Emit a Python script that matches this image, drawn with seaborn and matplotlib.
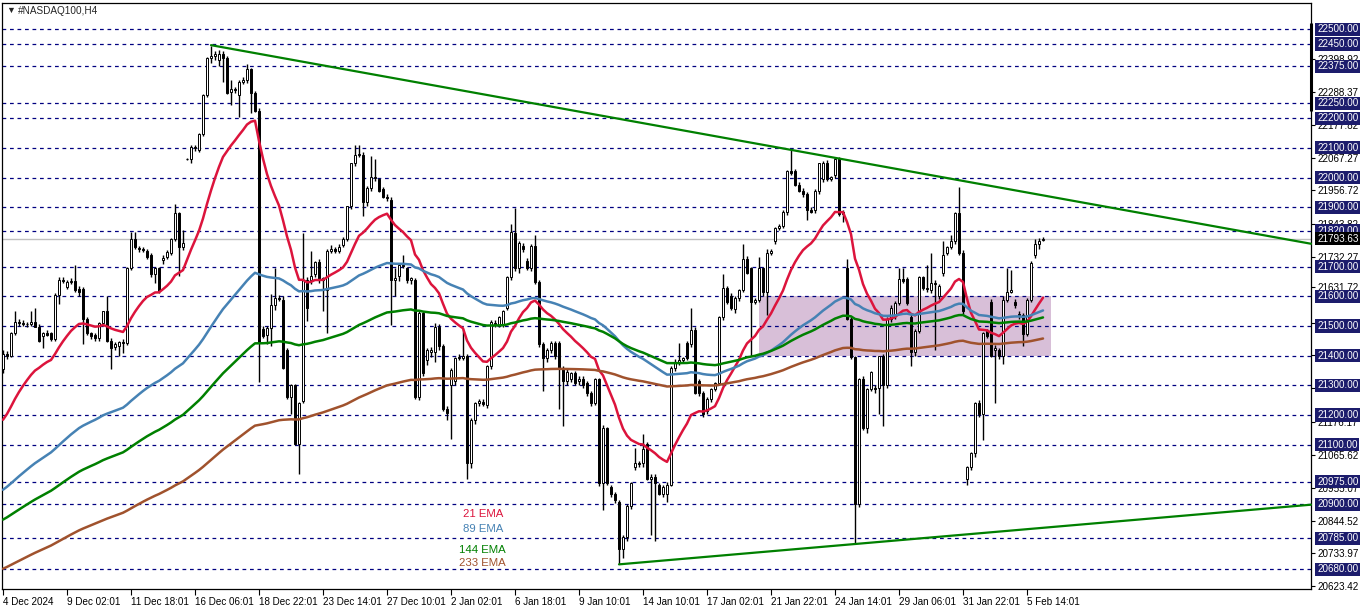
import matplotlib
matplotlib.use("Agg")
import matplotlib.pyplot as plt
import seaborn as sns
import numpy as np
import pandas as pd

# H4 candles
opens = [
    21355, 21405, 21400, 21475, 21515, 21510, 21505, 21505, 21512, 21497,
    21465, 21475, 21475, 21455, 21605, 21655, 21630, 21648, 21652, 21625,
    21625, 21525, 21475, 21468, 21458, 21510, 21549, 21451, 21430, 21431,
    21445, 21444, 21696, 21792, 21762, 21759, 21753, 21740, 21674, 21694,
    21723, 21733, 21746, 21792, 21880, 21766, 22063, 22061, 22103, 22093,
    22146, 22277, 22402, 22408, 22395, 22415, 22404, 22287, 22299, 22277,
    22323, 22330, 22365, 22284, 22225, 21490, 21468, 21493, 21569, 21595,
    21589, 21418, 21261, 21300, 21104, 21248, 21654, 21654, 21674, 21717,
    21654, 21622, 21753, 21759, 21753, 21772, 21792, 21903, 22048, 22076,
    22076, 21919, 21965, 22002, 21995, 21962, 21936, 21926, 21654, 21667,
    21707, 21694, 21654, 21654, 21261, 21543, 21385, 21412, 21412, 21497,
    21431, 21222, 21300, 21313, 21392, 21392, 21399, 21038, 21182, 21241,
    21245, 21235, 21366, 21510, 21503, 21503, 21562, 21664, 21814, 21696,
    21770, 21720, 21694, 21770, 21648, 21438, 21392, 21418, 21444, 21444,
    21359, 21313, 21320, 21340, 21315, 21320, 21307, 21274, 21241, 21320,
    20972, 21156, 20959, 20933, 20907, 20750, 20789, 20894, 21025, 21038,
    21038, 21104, 20986, 20992, 20966, 20933, 20935, 20966, 21359, 21379,
    21385, 21444, 21438, 21486, 21313, 21274, 21215, 21254, 21287, 21307,
    21530, 21628, 21602, 21556, 21595, 21622, 21727, 21694, 21582, 21589,
    21694, 21615, 21746, 21785, 21831, 21838, 21884, 22021, 22021, 21976,
    21956, 21943, 21890, 21890, 21956, 21995, 22050, 21995, 22008, 22061,
    21877, 21694, 21523, 21395, 20900, 21320, 21156, 21287, 21290, 21290,
    21399, 21300, 21523, 21536, 21576, 21657, 21657, 21530, 21412, 21484,
    21664, 21628, 21622, 21644, 21602, 21680, 21746, 21766, 21785, 21880,
    21746, 20986, 21025, 21071, 21241, 21202, 21484, 21582, 21420, 21418,
    21399, 21589, 21615, 21582, 21540, 21536, 21473, 21589, 21740, 21775,
    21790,
]
highs = [
    21420, 21415, 21480, 21550, 21525, 21520, 21515, 21550, 21560, 21505,
    21480, 21485, 21480, 21610, 21665, 21665, 21655, 21660, 21705, 21635,
    21630, 21530, 21480, 21475, 21515, 21552, 21600, 21460, 21445, 21450,
    21455, 21700, 21815, 21818, 21770, 21765, 21760, 21745, 21700, 21700,
    21740, 21755, 21795, 21910, 21885, 21825, 22066, 22111, 22110, 22150,
    22280, 22405, 22444, 22425, 22430, 22425, 22410, 22330, 22305, 22330,
    22340, 22382, 22370, 22290, 22235, 21500, 21500, 21608, 21696, 21605,
    21600, 21425, 21305, 21305, 21245, 21812, 21665, 21753, 21720, 21725,
    21665, 21760, 21772, 21765, 21775, 21800, 21905, 22050, 22111, 22111,
    22085, 21970, 22074, 22061, 22000, 21968, 21945, 21935, 21694, 21710,
    21740, 21700, 21665, 21660, 21550, 21550, 21425, 21430, 21510, 21505,
    21440, 21230, 21360, 21395, 21405, 21490, 21405, 21190, 21245, 21255,
    21255, 21370, 21520, 21520, 21535, 21555, 21670, 21844, 21897, 21785,
    21780, 21730, 21775, 21805, 21655, 21445, 21425, 21450, 21450, 21450,
    21365, 21355, 21345, 21350, 21330, 21330, 21315, 21280, 21325, 21325,
    21165, 21160, 20965, 20940, 20915, 20795, 20900, 20975, 21090, 21045,
    21135, 21110, 21000, 21000, 20970, 20965, 20975, 21365, 21390, 21444,
    21395, 21450, 21562, 21495, 21320, 21280, 21260, 21290, 21310, 21535,
    21674, 21635, 21610, 21600, 21625, 21775, 21735, 21700, 21595, 21733,
    21700, 21760, 21760, 21835, 21845, 21890, 22025, 22093, 22030, 21985,
    21965, 21950, 21900, 21960, 22050, 22055, 22060, 22005, 22068, 22070,
    21890, 21727, 21530, 21400, 21325, 21330, 21290, 21350, 21300, 21400,
    21405, 21530, 21570, 21585, 21694, 21694, 21665, 21540, 21490, 21670,
    21670, 21705, 21746, 21655, 21640, 21785, 21770, 21805, 21885, 21969,
    21755, 21030, 21075, 21245, 21250, 21480, 21490, 21590, 21435, 21425,
    21600, 21694, 21688, 21590, 21550, 21545, 21595, 21720, 21792, 21795,
    21800,
]
lows = [
    21340, 21390, 21395, 21470, 21500, 21500, 21495, 21500, 21495, 21445,
    21425, 21465, 21450, 21450, 21575, 21645, 21625, 21640, 21615, 21600,
    21440, 21470, 21455, 21450, 21450, 21505, 21445, 21355, 21420, 21400,
    21410, 21435, 21690, 21760, 21750, 21750, 21725, 21665, 21645, 21610,
    21710, 21725, 21740, 21785, 21667, 21755, 22060, 22048, 22090, 22085,
    22140, 22270, 22385, 22395, 22375, 22323, 22280, 22244, 22285, 22205,
    22315, 22320, 22218, 22220, 21312, 21460, 21440, 21431, 21555, 21585,
    21355, 21255, 21202, 21100, 21000, 21240, 21517, 21640, 21665, 21645,
    21549, 21477, 21745, 21745, 21745, 21765, 21785, 21895, 22040, 22070,
    21871, 21905, 21955, 21990, 21950, 21930, 21920, 21503, 21602, 21650,
    21695, 21645, 21640, 21255, 21250, 21330, 21370, 21395, 21380, 21420,
    21215, 21182, 21120, 21300, 21385, 21385, 20986, 21020, 21170, 21230,
    21230, 21225, 21355, 21495, 21495, 21495, 21555, 21655, 21685, 21680,
    21750, 21690, 21685, 21640, 21430, 21281, 21380, 21410, 21390, 21222,
    21163, 21300, 21310, 21300, 21300, 21290, 21265, 21230, 21235, 20960,
    20880, 20965, 20925, 20905, 20697, 20720, 20775, 20885, 21015, 21025,
    21025, 20980, 20795, 20776, 20930, 20925, 20907, 20960, 21350, 21370,
    21375, 21385, 21430, 21270, 21265, 21195, 21205, 21245, 21280, 21300,
    21520, 21575, 21555, 21545, 21585, 21615, 21675, 21399, 21575, 21580,
    21600, 21536, 21740, 21775, 21825, 21830, 21875, 22010, 21970, 21950,
    21935, 21858, 21880, 21880, 21945, 21985, 21990, 21990, 22000, 21870,
    21850, 21520, 21390, 20769, 20890, 21150, 21140, 21280, 21275, 21202,
    21163, 21290, 21515, 21525, 21570, 21645, 21570, 21366, 21400, 21475,
    21620, 21615, 21610, 21418, 21590, 21670, 21740, 21760, 21775, 21740,
    21540, 20966, 21015, 21060, 21195, 21115, 21460, 21395, 21241, 21390,
    21372, 21580, 21610, 21560, 21525, 21431, 21465, 21580, 21730, 21760,
    21785,
]
closes = [
    21405, 21400, 21475, 21515, 21510, 21505, 21508, 21512, 21497, 21450,
    21475, 21470, 21455, 21605, 21655, 21650, 21648, 21652, 21622, 21615,
    21525, 21475, 21465, 21458, 21510, 21549, 21451, 21425, 21438, 21447,
    21444, 21696, 21792, 21766, 21759, 21756, 21733, 21674, 21694, 21618,
    21730, 21749, 21792, 21880, 21766, 21779, 22063, 22103, 22100, 22146,
    22277, 22402, 22408, 22415, 22415, 22404, 22284, 22299, 22294, 22323,
    22330, 22365, 22284, 22225, 21444, 21465, 21493, 21569, 21595, 21590,
    21359, 21261, 21300, 21104, 21241, 21654, 21562, 21667, 21717, 21654,
    21660, 21753, 21759, 21753, 21766, 21792, 21903, 22048, 22076, 22080,
    21919, 21965, 22002, 21998, 21956, 21936, 21930, 21654, 21660, 21707,
    21703, 21654, 21661, 21261, 21543, 21340, 21418, 21418, 21497, 21431,
    21222, 21208, 21353, 21392, 21395, 21399, 21038, 21182, 21241, 21248,
    21237, 21366, 21513, 21503, 21530, 21549, 21664, 21818, 21694, 21779,
    21759, 21694, 21770, 21648, 21438, 21392, 21418, 21444, 21399, 21359,
    21313, 21346, 21340, 21307, 21320, 21300, 21274, 21241, 21320, 20972,
    21156, 20972, 20933, 20913, 20750, 20789, 20894, 20972, 21038, 21035,
    21084, 20986, 20992, 20972, 20933, 20959, 20966, 21359, 21379, 21385,
    21392, 21392, 21486, 21274, 21274, 21202, 21254, 21287, 21307, 21530,
    21628, 21582, 21562, 21595, 21622, 21727, 21680, 21582, 21589, 21694,
    21615, 21746, 21753, 21831, 21838, 21884, 22021, 22015, 21976, 21956,
    21943, 21890, 21885, 21956, 22048, 22050, 21995, 22002, 22061, 21877,
    21884, 21523, 21395, 20900, 21320, 21156, 21287, 21346, 21288, 21399,
    21300, 21523, 21562, 21576, 21657, 21652, 21576, 21412, 21484, 21664,
    21628, 21625, 21644, 21640, 21635, 21740, 21766, 21785, 21880, 21746,
    21549, 21025, 21071, 21241, 21202, 21477, 21465, 21399, 21425, 21399,
    21589, 21615, 21622, 21569, 21536, 21473, 21589, 21713, 21775, 21785,
    21794,
]

date_labels = ["4 Dec 2024", "9 Dec 02:01", "11 Dec 18:01", "16 Dec 06:01",
               "18 Dec 22:01", "23 Dec 14:01", "27 Dec 10:01", "2 Jan 02:01",
               "6 Jan 18:01", "9 Jan 10:01", "14 Jan 10:01", "17 Jan 02:01",
               "21 Jan 22:01", "24 Jan 14:01", "29 Jan 06:01", "31 Jan 22:01",
               "5 Feb 14:01"]
levels = [22500, 22450, 22375, 22250, 22200, 22100, 22000, 21900, 21820,
          21700, 21600, 21500, 21400, 21300, 21200, 21100, 20975, 20900,
          20785, 20680]
price_ticks = [22398.92, 22288.37, 22177.82, 22067.27, 21956.72, 21843.82,
               21732.27, 21631.72, 21511.17, 21400.62, 21290.07, 21176.17,
               21065.62, 20955.07, 20844.52, 20733.97, 20623.42]
last_price = 21793.63

ema_periods = [21, 89, 144, 233]
ema_start = [21162, 20938, 20840, 20676]
ema_names = ["21 EMA", "89 EMA", "144 EMA", "233 EMA"]
ema_colors = ["#dc143c", "#4682b4", "#008000", "#a0522d"]

upper_x, upper_y = [52, 327], [22446, 21777]
lower_x, lower_y = [154, 327], [20697, 20898]
zone_x, zone_y = [189, 262], [21400, 21600]

sns.set_style("white")
plt.rcParams['font.family'] = ['Liberation Sans', 'DejaVu Sans']

o = np.array(opens, float)
h = np.array(highs, float)
l = np.array(lows, float)
c = np.array(closes, float)
idx = np.arange(len(c))

fig = plt.figure(figsize=(13.62, 6.11), dpi=100)
ax = fig.add_axes([2 / 1362, 22 / 611, 1309 / 1362, 586 / 611])
ax.set_xlim(-0.25, 327)
ax.set_ylim(20614, 22588)

# zone box
ax.fill_between(zone_x, zone_y[0], zone_y[1], color="#d8bfd8", lw=0, zorder=0.5)

# horizontal levels
for lv in levels:
    ax.axhline(lv, color="#000080", lw=0.9, ls=(0, (3, 3)), zorder=1)
ax.axhline(last_price, color="#c0c0c0", lw=1, zorder=1)

# candles
up = c >= o
ax.vlines(idx, l, h, color="black", lw=1, zorder=3)
ax.bar(idx[up], (c - o)[up], bottom=o[up], width=0.72, color="white",
       edgecolor="black", linewidth=0.7, zorder=4)
ax.bar(idx[~up], (o - c)[~up], bottom=c[~up], width=0.72, color="black",
       edgecolor="black", linewidth=0.7, zorder=4)

# moving averages
for p, s0, col in zip(ema_periods, ema_start, ema_colors):
    ema = pd.Series([s0] + closes).ewm(span=p, adjust=False).mean().to_numpy()[1:]
    sns.lineplot(x=idx, y=ema, color=col, linewidth=1.8, ax=ax, zorder=5)

# trend lines
ax.plot(upper_x, upper_y, color="#008000", lw=1.6, zorder=6, clip_on=False)
ax.plot(lower_x, lower_y, color="#008000", lw=1.6, zorder=6, clip_on=False)

# legend text
for name, col, x, y in zip(ema_names, ema_colors, [115.1, 115.1, 114.1, 114.1],
                           [20865, 20815, 20747, 20701]):
    ax.text(x, y, name, color=col, fontsize=8.2, va="center", ha="left", zorder=7)

# axes
for sp in ax.spines.values():
    sp.set_color("black")
    sp.set_linewidth(0.9)
ax.yaxis.tick_right()
ax.set_yticks(price_ticks)
ax.set_yticklabels([f"{v:.2f}" for v in price_ticks])
ax.tick_params(axis="y", right=True, length=3, width=0.8, pad=2, labelsize=7.1, colors="black")
ax.set_xticks(np.arange(len(date_labels)) * 16)
ax.set_xticklabels(date_labels, ha="left")
ax.tick_params(axis="x", bottom=True, length=4, width=0.8, pad=2, labelsize=7.1, colors="black")
ax.set_xlabel("")
ax.set_ylabel("")

ytr = ax.get_yaxis_transform()
for lv in levels:
    ax.text(1.0046, lv, f"{lv:.2f}", transform=ytr, fontsize=7.1, color="white",
            va="center", ha="left", zorder=10, clip_on=False,
            bbox=dict(boxstyle="square,pad=0.16", fc="#1c1c6c", ec="none"))
ax.text(1.0046, last_price, f"{last_price:.2f}", transform=ytr, fontsize=7.1,
        color="white", va="center", ha="left", zorder=11, clip_on=False,
        bbox=dict(boxstyle="square,pad=0.16", fc="black", ec="none"))
ax.plot([1, 1], [22225, 22520], transform=ytr, color="black", lw=2.2,
        solid_capstyle="butt", clip_on=False, zorder=9)

fig.text(6 / 1362, 1 - 10.5 / 611, "\u25bc", fontsize=6.5, va="center", ha="left")
fig.text(18 / 1362, 1 - 10.5 / 611, "#NASDAQ100,H4", fontsize=7.2, va="center", ha="left")

fig.savefig("out.png", dpi=100)
